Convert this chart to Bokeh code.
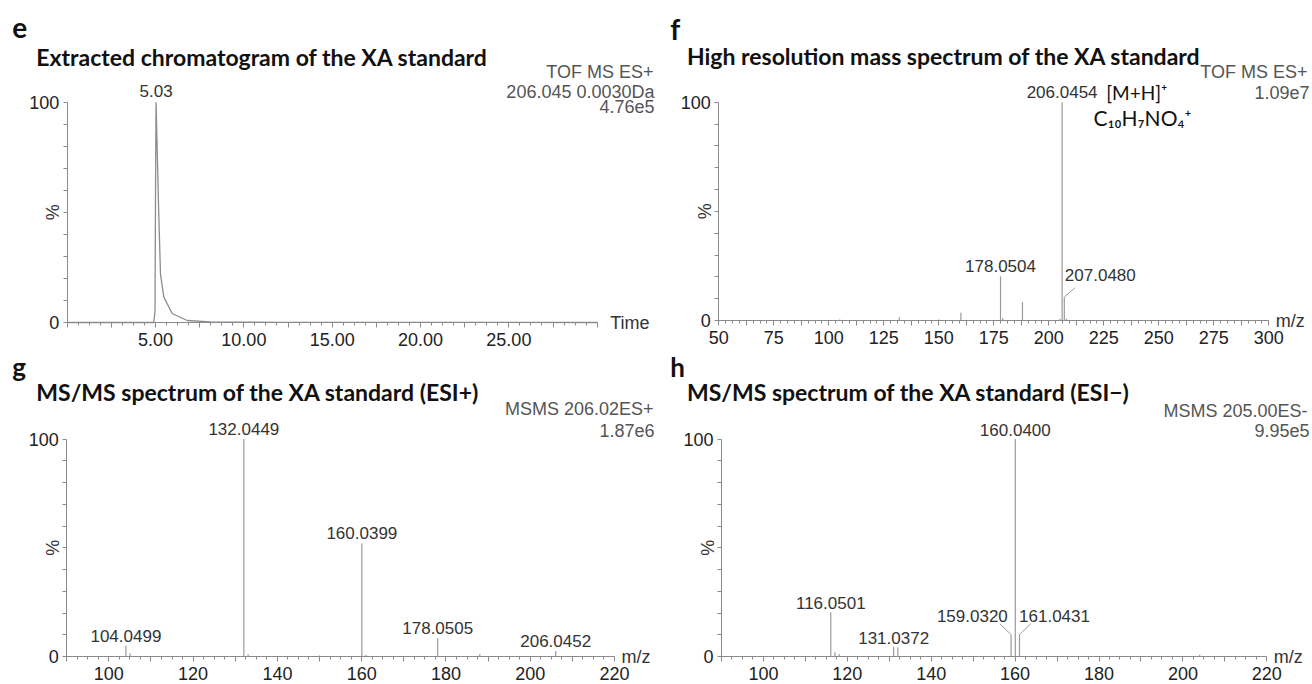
import numpy as np
from bokeh.plotting import figure
from bokeh.models import Label, FixedTicker, CustomJSTickFormatter, Range1d
from bokeh.layouts import column, row
from bokeh.embed import file_html
from bokeh.resources import INLINE

# ---------------- data ----------------
chrom_time = [0.0, 4.90, 4.97, 5.00, 5.03, 5.09, 5.18, 5.28, 5.47, 5.94, 6.79, 8.10, 12.0, 20.0, 30.0]
chrom_int = [0.0, 0.0, 5.0, 60.0, 100.0, 80.0, 50.0, 22.0, 11.5, 4.1, 0.9, 0.25, 0.1, 0.05, 0.0]

hr_mz = [105.0, 132.04, 150.0, 160.04, 178.0504, 179.05, 188.03, 205.04, 206.0454, 207.0480, 208.05]
hr_int = [0.5, 1.5, 0.5, 3.5, 20.2, 1.2, 8.4, 0.8, 100.0, 10.7, 0.8]

pos_mz = [104.0499, 105.05, 132.0449, 133.05, 150.0, 160.0399, 161.04, 178.0505, 188.03, 206.0452]
pos_int = [5.0, 1.5, 100.0, 1.0, 0.5, 52.0, 0.8, 8.4, 1.2, 2.5]

neg_mz = [116.0501, 117.05, 118.05, 131.0372, 132.04, 159.0320, 160.0400, 161.0431, 204.0]
neg_int = [20.3, 2.0, 1.2, 4.5, 4.3, 10.1, 100.0, 10.1, 0.8]

e_labels = [5.03]
f_labels = [178.0504, 206.0454]
f_leader = [207.0480]
g_labels = [104.0499, 132.0449, 160.0399, 178.0505, 206.0452]
h_labels = [116.0501, 131.0372, 160.0400]
h_leader = [159.0320, 161.0431]

titles = ["Extracted chromatogram of the XA standard",
          "High resolution mass spectrum of the XA standard",
          "MS/MS spectrum of the XA standard (ESI+)",
          "MS/MS spectrum of the XA standard (ESI\u2212)"]
letters = ["e", "f", "g", "h"]
e_info = ["TOF MS ES+", "206.045 0.0030Da", "4.76e5"]
f_info = ["TOF MS ES+", "1.09e7"]
g_info = ["MSMS 206.02ES+", "1.87e6"]
h_info = ["MSMS 205.00ES-", "9.95e5"]
f_ion = ["[M+H]\u207a", "C\u2081\u2080H\u2087NO\u2084\u207a"]

SANS = "Liberation Sans"
TITLE_FONT = "Lato"
GRAY = "#555555"
DARK = "#222222"
LINE = "#9a9a9a"
AXIS = "#8a8a8a"


class Panel:
    """canvas box and axis box are given in window pixels; the frame fills the canvas."""

    def __init__(self, canvas, box, xr, major_step, label_step, label_min, label_max,
                 minor_per, fmt_digits, xlabel):
        cx0, cy0, cw, ch = canvas
        self.fx0, self.fx1, self.fy0, self.fy1 = box
        self.x0, self.x1 = xr
        ppx = (self.fx1 - self.fx0) / (self.x1 - self.x0)
        ppy = (self.fy1 - self.fy0) / 100.0
        self._ppx, self._ppy = ppx, ppy
        xs = self.x0 - (self.fx0 - cx0) / ppx
        xe = self.x1 + (cx0 + cw - self.fx1) / ppx
        ys = -(cy0 + ch - self.fy1) / ppy
        ye = 100.0 + (self.fy0 - cy0) / ppy
        p = figure(width=cw, height=ch, x_range=Range1d(xs, xe), y_range=Range1d(ys, ye),
                   min_border=0, min_border_left=0, min_border_right=0,
                   min_border_top=0, min_border_bottom=0, title=None,
                   output_backend="svg", toolbar_location=None, tools="")
        p.outline_line_color = None
        p.xgrid.visible = False
        p.ygrid.visible = False
        p.background_fill_color = "white"
        p.border_fill_color = "white"
        # x axis
        n = int(round((xr[1] - xr[0]) / major_step))
        majors = [xr[0] + i * major_step for i in range(n + 1)]
        ms = major_step / minor_per
        minors = [xr[0] + i * ms for i in range(n * minor_per + 1)]
        xa = p.xaxis[0]
        xa.fixed_location = 0
        xa.bounds = (xr[0], xr[1])
        xa.ticker = FixedTicker(ticks=majors, minor_ticks=minors)
        xa.formatter = CustomJSTickFormatter(code=f"""
            const r = Math.round(tick*1000)/1000;
            const q = r/{label_step};
            if (r >= {label_min} && r <= {label_max} && Math.abs(q - Math.round(q)) < 1e-6)
                return r.toFixed({fmt_digits});
            return "";
        """)
        xa.major_tick_out = 5
        xa.major_tick_in = 0
        xa.minor_tick_out = 3
        xa.minor_tick_in = 0
        xa.major_label_standoff = 5
        xa.major_label_text_font = SANS
        xa.major_label_text_font_size = "18px"
        xa.major_label_text_color = DARK
        xa.axis_line_color = AXIS
        xa.major_tick_line_color = AXIS
        xa.minor_tick_line_color = AXIS
        # y axis
        ya = p.yaxis[0]
        ya.fixed_location = xr[0]
        ya.bounds = (0, 100)
        ya.ticker = FixedTicker(ticks=list(range(0, 101, 10)), minor_ticks=[])
        ya.formatter = CustomJSTickFormatter(code="""
            const r = Math.round(tick);
            return (r == 0 || r == 100) ? String(r) : "";
        """)
        ya.major_tick_out = 4
        ya.major_tick_in = 0
        ya.major_label_standoff = 4
        ya.major_label_text_font = SANS
        ya.major_label_text_font_size = "18px"
        ya.major_label_text_color = DARK
        ya.axis_line_color = AXIS
        ya.major_tick_line_color = AXIS
        self.p = p
        self.label(self.fx1 + (13 if xlabel == "Time" else 7), self.fy1, xlabel,
                   size="18px", align="left", color="#333333")
        self.label(self.fx0 - 14, (self.fy0 + self.fy1) / 2, "%", size="18px",
                   align="center", color="#333333", angle=np.pi / 2)

    def sx(self, wx):
        return self.x0 + (wx - self.fx0) / self._ppx

    def sy(self, wy):
        return (self.fy1 - wy) / self._ppy

    def label(self, wx, wy, text, size="18px", align="left", baseline="middle", color=GRAY,
              font=SANS, style="normal", angle=0.0):
        self.p.add_layout(Label(x=self.sx(wx), y=self.sy(wy), text=text, x_units="data",
                                y_units="data", text_align=align, text_baseline=baseline,
                                text_font=font, text_font_size=size, text_font_style=style,
                                text_color=color, angle=angle))

    def peak_label(self, mz, inten, dx=0.0, dy=10.0, text=None):
        self.p.add_layout(Label(x=mz, y=inten, x_offset=dx, y_offset=dy,
                                text=text if text is not None else f"{mz:.4f}",
                                text_align="center", text_baseline="middle", text_font=SANS,
                                text_font_size="17px", text_color="#333333"))

    def leader(self, mz, inten, dx, dy):
        self.p.segment(x0=[mz], y0=[inten], x1=[mz + dx / self._ppx], y1=[inten + dy / self._ppy],
                       line_color=LINE, line_width=1)

    def head(self, letter, lx, ly, lsize, title, tx, ty):
        self.label(lx, ly, letter, size=lsize, color="#111111", font=TITLE_FONT, style="bold")
        self.label(tx, ty, title, size="23px", color="#111111", font=TITLE_FONT, style="bold")


# ---------------- panel e ----------------
pe = Panel((0, 0, 656, 350), (66.7, 596.7, 101.7, 322.0), (0, 30), 2.5, 5, 5, 25, 4, 2, "Time")
pe.p.line(chrom_time, chrom_int, line_color="#8c8c8c", line_width=1.3)
for t in e_labels:
    pe.peak_label(t, 100.0, dy=11, text=f"{t:.2f}")
pe.head(letters[0], 11.8, 27, "28px", titles[0], 35.8, 56.5)
pe.label(653, 71.5, e_info[0], align="right")
pe.label(654, 91.5, e_info[1], align="right")
pe.label(654, 105.5, e_info[2], align="right")

# ---------------- panel f ----------------
pf = Panel((656, 0, 656, 350), (718.3, 1268.3, 101.7, 320.0), (50, 300), 12.5, 25, 50, 300, 4, 0, "m/z")
pf.p.segment(x0=hr_mz, y0=[0] * len(hr_mz), x1=hr_mz, y1=hr_int, line_color=LINE, line_width=1.2)
for mz in f_labels:
    k = hr_mz.index(mz)
    pf.peak_label(mz, hr_int[k])
for mz in f_leader:
    k = hr_mz.index(mz)
    pf.leader(mz, hr_int[k], 10.6, 9.4)
    pf.peak_label(mz, hr_int[k], dx=36, dy=21.7)
pf.head(letters[1], 669.7, 28, "28px", titles[1], 686.4, 55.5)
pf.label(1307, 71, f_info[0], align="right")
pf.label(1309, 92, f_info[1], align="right")
pf.label(1105.7, 92, f_ion[0], size="19px", align="left", color="#111111", font=TITLE_FONT)
pf.label(1093, 117, f_ion[1], size="21px", align="left", color="#111111", font=TITLE_FONT)

# ---------------- panel g ----------------
pg = Panel((0, 350, 656, 334), (66.2, 614.0, 438.5, 656.0), (90, 220), 10, 20, 100, 220, 4, 0, "m/z")
pg.p.segment(x0=pos_mz, y0=[0] * len(pos_mz), x1=pos_mz, y1=pos_int, line_color=LINE, line_width=1.2)
for mz in g_labels:
    k = pos_mz.index(mz)
    pg.peak_label(mz, pos_int[k])
pg.head(letters[2], 11.8, 366.5, "26px", titles[2], 35.8, 391.5)
pg.label(653, 408.5, g_info[0], align="right")
pg.label(654, 429.5, g_info[1], align="right")

# ---------------- panel h ----------------
ph = Panel((656, 350, 656, 334), (721.0, 1266.3, 438.5, 656.0), (90, 220), 10, 20, 100, 220, 4, 0, "m/z")
ph.p.segment(x0=neg_mz, y0=[0] * len(neg_mz), x1=neg_mz, y1=neg_int, line_color=LINE, line_width=1.2)
for mz in h_labels:
    k = neg_mz.index(mz)
    ph.peak_label(mz, neg_int[k], dy=9)
offs = {159.0320: (-1, -38.7), 161.0431: (1, 35.0)}
for mz in h_leader:
    k = neg_mz.index(mz)
    sgn, lx = offs[mz]
    ph.leader(mz, neg_int[k], 11.0 * sgn, 10.5)
    ph.peak_label(mz, neg_int[k], dx=lx, dy=19)
ph.head(letters[3], 669.7, 366.5, "26px", titles[3], 686.4, 391.5)
ph.label(1307, 410, h_info[0], align="right")
ph.label(1309, 430, h_info[1], align="right")

layout = column(row(pe.p, pf.p), row(pg.p, ph.p))
open("out.html", "w").write(file_html(layout, INLINE))
